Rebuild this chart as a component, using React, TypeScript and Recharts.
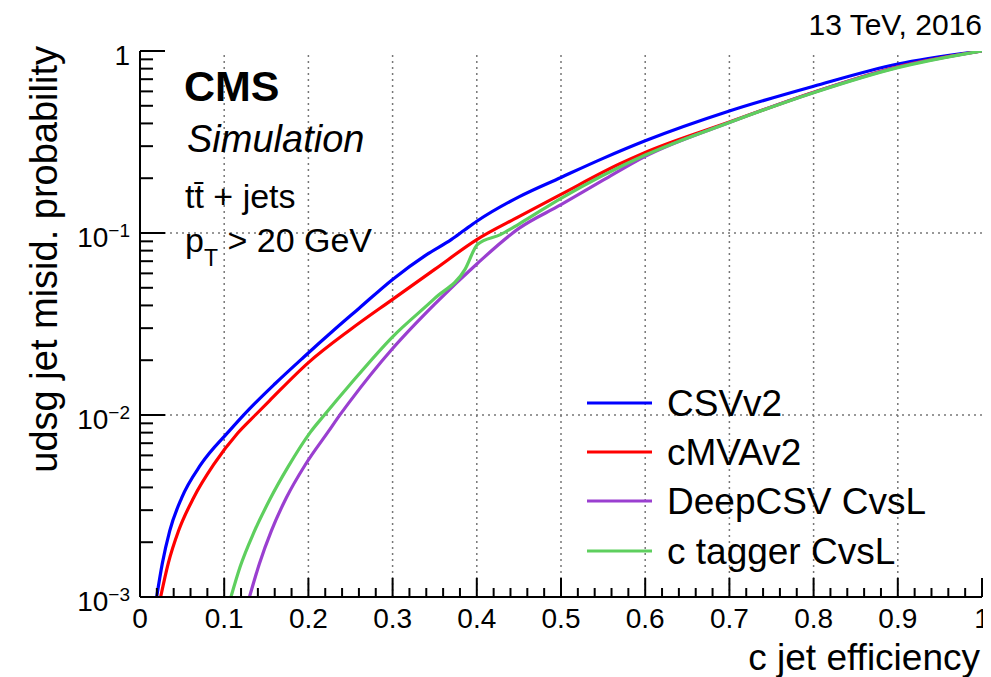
import React from 'react';
import { LineChart, Line, XAxis, YAxis, ReferenceLine } from 'recharts';

// ---- data ----
const csvEff = [0.0198, 0.0264, 0.0353, 0.0495, 0.0721, 0.1053, 0.13, 0.16, 0.194, 0.23, 0.26, 0.3, 0.34, 0.37, 0.385, 0.4, 0.45, 0.5, 0.55, 0.6, 0.7, 0.8, 0.9, 1.0];
const csvMisid = [0.001, 0.00152, 0.00231, 0.00351, 0.00533, 0.0081, 0.0108, 0.0148, 0.0207, 0.0292, 0.0385, 0.0556, 0.0759, 0.0923, 0.1035, 0.116, 0.158, 0.202, 0.257, 0.321, 0.468, 0.64, 0.848, 1.0];

const cmvaEff = [0.0245, 0.0334, 0.0458, 0.0637, 0.0874, 0.1159, 0.137, 0.154, 0.2, 0.25, 0.3, 0.35, 0.4, 0.45, 0.5, 0.57, 0.6, 0.7, 0.8, 0.9, 1.0];
const cmvaMisid = [0.001, 0.00152, 0.00231, 0.00351, 0.00533, 0.00794, 0.01, 0.012, 0.0194, 0.0295, 0.0432, 0.0631, 0.092, 0.123, 0.163, 0.24, 0.277, 0.407, 0.594, 0.82, 1.0];

const deepEff = [0.13, 0.1417, 0.156, 0.1738, 0.1963, 0.2236, 0.2387, 0.25, 0.3, 0.35, 0.4, 0.45, 0.5, 0.55, 0.6, 0.7, 0.8, 0.9, 1.0];
const deepMisid = [0.001, 0.00152, 0.00231, 0.00351, 0.00533, 0.0081, 0.0102, 0.012, 0.0232, 0.0407, 0.0676, 0.106, 0.143, 0.195, 0.264, 0.405, 0.592, 0.815, 1.0];

const ctagEff = [0.108, 0.119, 0.135, 0.154, 0.176, 0.202, 0.219, 0.25, 0.3, 0.35, 0.386, 0.401, 0.428, 0.45, 0.5, 0.6, 0.7, 0.8, 0.9, 0.98, 1.0];
const ctagMisid = [0.001, 0.00147, 0.00225, 0.00342, 0.0052, 0.008, 0.01, 0.0148, 0.0269, 0.0437, 0.0631, 0.0867, 0.098, 0.112, 0.155, 0.268, 0.405, 0.59, 0.81, 0.965, 1.0];

const seriesNames = ['CSVv2', 'cMVAv2', 'DeepCSV CvsL', 'c tagger CvsL'];
const seriesColors = ['#0000ff', '#ff0000', '#9a3fd0', '#5ecf5e'];

const xTicks = [0, 0.02, 0.04, 0.06, 0.08, 0.1, 0.12, 0.14, 0.16, 0.18, 0.2, 0.22, 0.24, 0.26, 0.28, 0.3, 0.32, 0.34, 0.36, 0.38, 0.4, 0.42, 0.44, 0.46, 0.48, 0.5, 0.52, 0.54, 0.56, 0.58, 0.6, 0.62, 0.64, 0.66, 0.68, 0.7, 0.72, 0.74, 0.76, 0.78, 0.8, 0.82, 0.84, 0.86, 0.88, 0.9, 0.92, 0.94, 0.96, 0.98, 1];
const xGrid = [0.1, 0.2, 0.3, 0.4, 0.5, 0.6, 0.7, 0.8, 0.9];
const yDecades = [0.001, 0.01, 0.1];
const yMantissas = [1, 2, 3, 4, 5, 6, 7, 8, 9];
const yGrid = [0.01, 0.1];

const toPoints = (xs: number[], ys: number[]) => xs.map((x, i) => ({ x, y: ys[i] }));
const csvData = toPoints(csvEff, csvMisid);
const cmvaData = toPoints(cmvaEff, cmvaMisid);
const deepData = toPoints(deepEff, deepMisid);
const ctagData = toPoints(ctagEff, ctagMisid);
const allData = [csvData, cmvaData, deepData, ctagData];

const yTicks: number[] = [];
yDecades.forEach((d) => yMantissas.forEach((m) => yTicks.push(+(d * m).toPrecision(3))));
yTicks.push(1);

const FONT = '"Liberation Sans", Arial, Helvetica, sans-serif';
const OFF = 8;

const isMajorX = (v: number) => Math.abs(v * 10 - Math.round(v * 10)) < 1e-6;
const isMajorY = (v: number) => Math.abs(Math.log10(v) - Math.round(Math.log10(v))) < 1e-6;

const XBottomTick = (props: any) => {
  const { x, y, payload } = props;
  const v = payload.value;
  const major = isMajorX(v);
  const label = v === 0 ? '0' : v === 1 ? '1' : v.toFixed(1);
  return (
    <g>
      <line x1={x} x2={x} y1={y} y2={y - (major ? 19 : 9)} stroke="#000" strokeWidth={2} />
      {major && (
        <text x={x} y={y + 31} textAnchor="middle" fontSize={28} fontFamily={FONT} fill="#000">
          {label}
        </text>
      )}
    </g>
  );
};

const XTopTick = (props: any) => {
  const { x, y, payload } = props;
  const major = isMajorX(payload.value);
  return <line x1={x} x2={x} y1={y} y2={y + (major ? 19 : 9)} stroke="#000" strokeWidth={2} />;
};

const YLeftTick = (props: any) => {
  const { x, y, payload } = props;
  const v = payload.value;
  const major = isMajorY(v);
  const exp = Math.round(Math.log10(v));
  return (
    <g>
      <line x1={x} x2={x + (major ? 25 : 13)} y1={y} y2={y} stroke="#000" strokeWidth={2} />
      {major && (
        <text x={x - 10} y={y + 14} textAnchor="end" fontSize={28} fontFamily={FONT} fill="#000">
          {exp === 0 ? (
            '1'
          ) : (
            <>
              <tspan>10</tspan>
              <tspan dy={-10} fontSize={19}>{'\u2212' + String(-exp)}</tspan>
            </>
          )}
        </text>
      )}
    </g>
  );
};

const YRightTick = (props: any) => {
  const { x, y, payload } = props;
  const major = isMajorY(payload.value);
  return <line x1={x} x2={x - (major ? 25 : 13)} y1={y} y2={y} stroke="#000" strokeWidth={2} />;
};

const legendY = [403, 452, 501, 551];

export default function App() {
  return (
    <div style={{ position: 'relative', width: 983, height: 669, fontFamily: FONT }}>
      <LineChart width={983} height={669} margin={{ top: 43, right: 9, left: 0, bottom: 0 }}>
        <XAxis
          dataKey="x"
          type="number"
          domain={[0, 1]}
          allowDataOverflow
          ticks={xTicks}
          interval={0}
          tickSize={0}
          tickMargin={0}
          tickLine={false}
          tick={(p: any) => <XBottomTick {...p} />}
          height={80}
          axisLine={{ stroke: '#000', strokeWidth: 2 }}
        />
        <XAxis
          xAxisId="top"
          orientation="top"
          type="number"
          domain={[0, 1]}
          allowDataOverflow
          ticks={xTicks}
          interval={0}
          tickSize={0}
          tickMargin={0}
          tickLine={false}
          tick={(p: any) => <XTopTick {...p} />}
          height={0}
          axisLine={{ stroke: '#000', strokeWidth: 2 }}
        />
        <YAxis
          type="number"
          scale="log"
          domain={[0.001, 1]}
          allowDataOverflow
          ticks={yTicks}
          interval={0}
          tickSize={0}
          tickMargin={0}
          tickLine={false}
          tick={(p: any) => <YLeftTick {...p} />}
          width={132}
          axisLine={{ stroke: '#000', strokeWidth: 2 }}
        />
        <YAxis
          yAxisId="right"
          orientation="right"
          type="number"
          scale="log"
          domain={[0.001, 1]}
          allowDataOverflow
          ticks={yTicks}
          interval={0}
          tickSize={0}
          tickMargin={0}
          tickLine={false}
          tick={(p: any) => <YRightTick {...p} />}
          width={0}
          axisLine={{ stroke: '#000', strokeWidth: 2 }}
        />
        {xGrid.map((g) => (
          <ReferenceLine key={'gx' + g} x={g} stroke="#777" strokeWidth={1.5} strokeDasharray="2 4" />
        ))}
        {yGrid.map((g) => (
          <ReferenceLine key={'gy' + g} y={g} stroke="#777" strokeWidth={1.5} strokeDasharray="2 4" />
        ))}
        {allData.map((d, i) => (
          <Line
            key={seriesNames[i]}
            data={d}
            dataKey="y"
            type="monotone"
            stroke={seriesColors[i]}
            strokeWidth={3.2}
            dot={false}
            activeDot={false}
            isAnimationActive={false}
          />
        ))}
      </LineChart>
      <svg
        width={983}
        height={669}
        style={{ position: 'absolute', left: 0, top: 0, pointerEvents: 'none' }}
        fontFamily={FONT}
      >
        <text x={982 - OFF} y={35 - OFF} textAnchor="end" fontSize={30} fill="#000">13 TeV, 2016</text>
        <text x={184 - OFF} y={101 - OFF} fontSize={43} fontWeight="bold" fill="#000">CMS</text>
        <text x={187 - OFF} y={152 - OFF} fontSize={38} fontStyle="italic" fill="#000">Simulation</text>
        <text x={185 - OFF} y={208 - OFF} fontSize={34} fill="#000">{'tt\u0304 + jets'}</text>
        <text x={185 - OFF} y={252 - OFF} fontSize={34} fill="#000">
          <tspan>p</tspan>
          <tspan dy={14} fontSize={23}>T</tspan>
          <tspan dy={-14}>{' > 20 GeV'}</tspan>
        </text>
        <text x={980 - OFF} y={670 - OFF} textAnchor="end" fontSize={37} fill="#000">c jet efficiency</text>
        <text
          transform={`translate(${57 - OFF},${46 - OFF}) rotate(-90)`}
          textAnchor="end"
          fontSize={38}
          fill="#000"
        >
          udsg jet misid. probability
        </text>
        {seriesNames.map((n, i) => (
          <g key={n}>
            <line x1={587 - OFF} x2={652 - OFF} y1={legendY[i] - OFF} y2={legendY[i] - OFF} stroke={seriesColors[i]} strokeWidth={3.2} />
            <text x={667 - OFF} y={legendY[i] + 13 - OFF} fontSize={37} fill="#000">{n}</text>
          </g>
        ))}
      </svg>
    </div>
  );
}
